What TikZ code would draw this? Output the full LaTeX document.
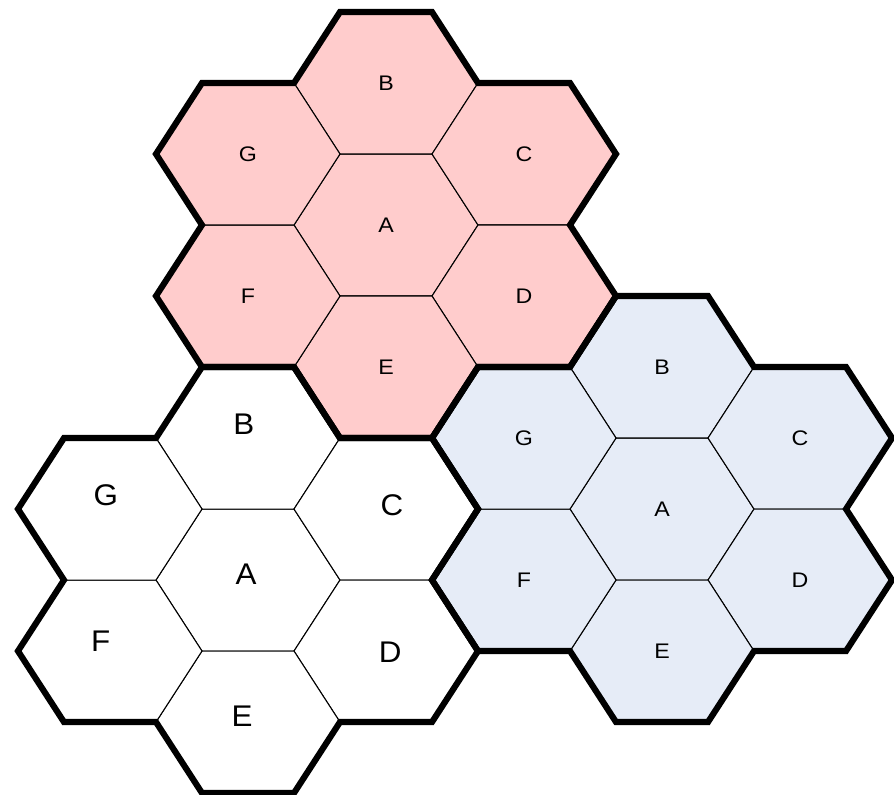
\documentclass[tikz,border=0pt]{standalone}
\usepackage{fontspec}
\setmainfont{Liberation Sans}
\usetikzlibrary{positioning}
\definecolor{reusepink}{RGB}{255,204,204}
\definecolor{reuseblue}{RGB}{230,236,247}

\begin{document}
\begin{tikzpicture}[x=0.92cm,y=1.42cm,
    cell/.style={draw,line width=0.6pt},
    rim/.style={draw,line width=3.5pt,line join=miter},
    lab/.style={font=\fontsize{12}{14}\selectfont,inner sep=0pt,xscale=1.1},
    biglab/.style={font=\fontsize{17}{20}\selectfont,inner sep=0pt,xscale=1.05}]
  \useasboundingbox (-8.391,-8.014) rectangle (11.043,3.169);
  % cells
  \foreach \cx/\cy/\col in {0/0/reusepink,6/-4/reuseblue,-3/-5/white}
    \foreach \hx/\hy in {0/0,0/2,3/1,3/-1,0/-2,-3/-1,-3/1}
      \filldraw[cell,fill=\col,shift={(\cx+\hx,\cy+\hy)}] (-2,0) -- (-1,1) -- (1,1) -- (2,0) -- (1,-1) -- (-1,-1) -- cycle;
  % cluster outlines
  \foreach \cx/\cy in {0/0,6/-4,-3/-5}
    \draw[rim,shift={(\cx,\cy)}] (-1,3) -- (1,3) -- (2,2) -- (4,2) -- (5,1) -- (4,0) -- (5,-1) -- (4,-2) -- (2,-2) -- (1,-3) -- (-1,-3) -- (-2,-2) -- (-4,-2) -- (-5,-1) -- (-4,0) -- (-5,1) -- (-4,2) -- (-2,2) -- cycle;
  % labels
  \foreach \hx/\hy/\lbl in {0/0/A,0/2/B,3/1/C,3/-1/D,0/-2/E,-3/-1/F,-3/1/G} {
    \node[lab] (p\lbl) at (\hx,\hy) {\lbl};
    \node[lab] (b\lbl) at (\hx+6,\hy-4) {\lbl};
  }
  \node[biglab] (wA) at (-3.04,-4.92) {A};
  \node[biglab] (wB) at (-3.09,-2.8) {B};
  \node[biglab] (wC) at (0.13,-3.94) {C};
  \node[biglab] (wD) at (0.09,-6.01) {D};
  \node[biglab] (wE) at (-3.13,-6.92) {E};
  \node[biglab] (wF) at (-6.2,-5.86) {F};
  \node[biglab] (wG) at (-6.09,-3.8) {G};
\end{tikzpicture}
\end{document}
